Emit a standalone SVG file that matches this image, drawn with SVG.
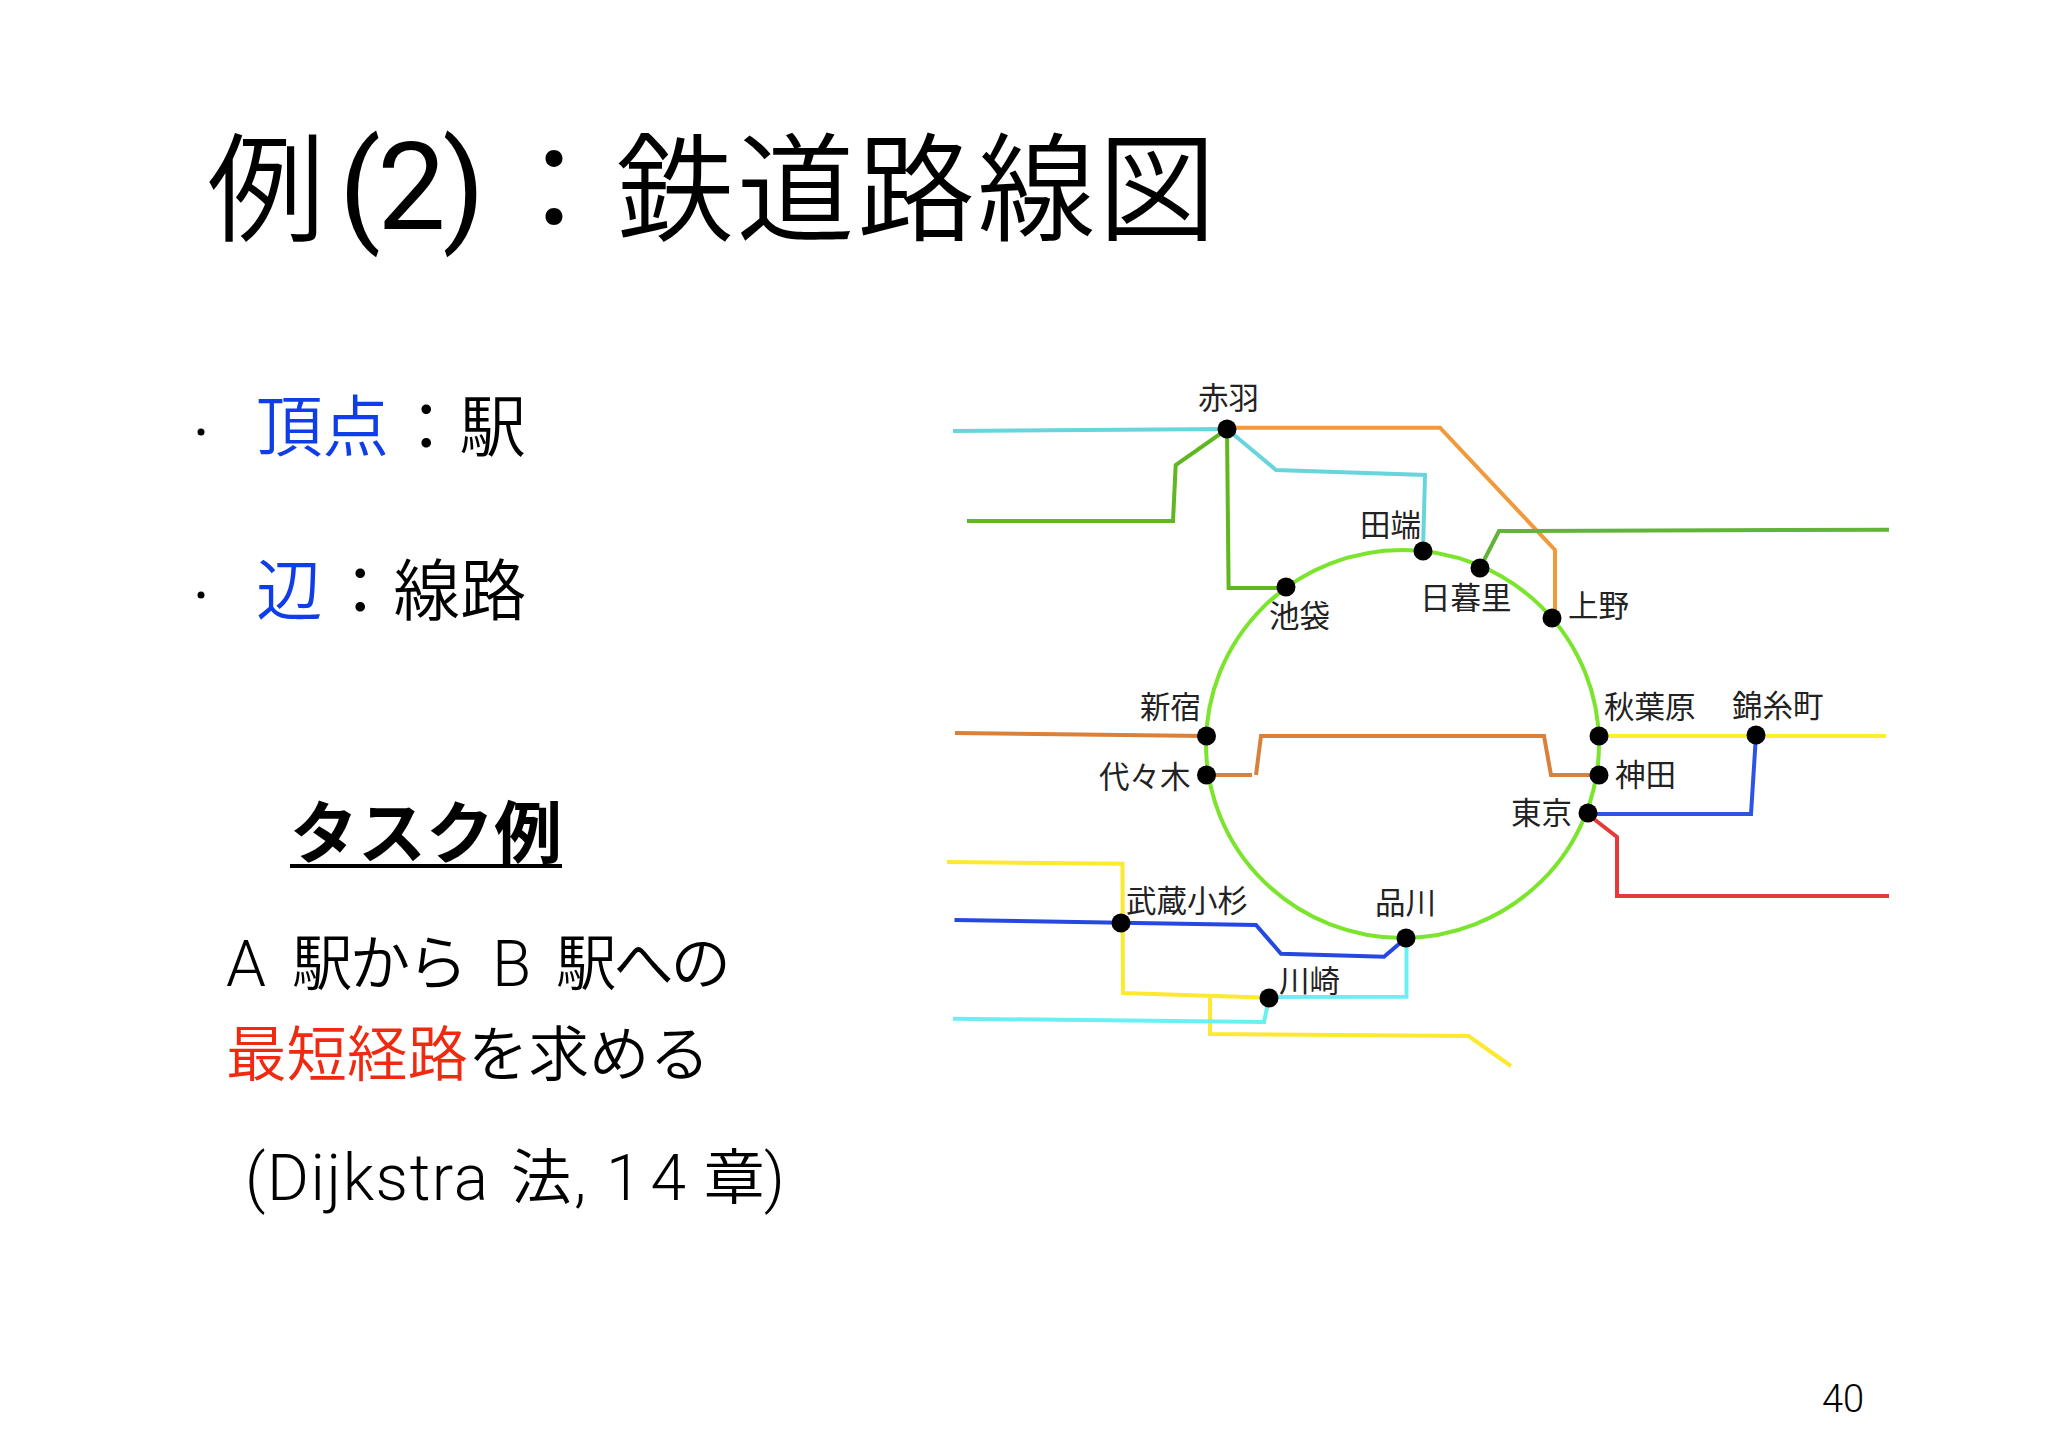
<svg xmlns="http://www.w3.org/2000/svg" width="2048" height="1447" viewBox="0 0 2048 1447">
<style>
text{font-family:"Noto Sans CJK JP",sans-serif;fill:#000}
.r{font-family:Roboto,"Liberation Sans",sans-serif;font-weight:300}
.t{font-size:118px;font-weight:350}
.b{font-size:66.500px;font-weight:350}
.c{font-size:60.500px;font-weight:350}
.lat{font-size:64px}
.s{font-size:30.500px;fill:#222}
.blue{fill:#0f3ee8}.red{fill:#f02a10}
.l{fill:none;stroke-width:4;stroke-linejoin:miter}
.st{fill:#000}
</style>
<rect width="2048" height="1447" fill="#fff"/>
<g id="title"><text class="t" x="207" y="232">例</text><text x="339" y="229" font-size="122" textLength="146" style="font-family:Roboto,sans-serif;font-weight:400">(2)</text><text class="t" x="495" y="232">：</text><text class="t" x="616" y="232" textLength="600">鉄道路線図</text></g>
<g id="bullets">
<circle cx="201" cy="432" r="3.500" class="st"/><text class="b blue" x="256" y="451">頂点</text><text class="b" x="393" y="451">：駅</text>
<circle cx="201" cy="595" r="3.500" class="st"/><text class="b blue" x="256" y="615">辺</text><text class="b" x="327" y="615">：線路</text>
</g>
<g id="task">
<text x="290" y="858" font-size="68" font-weight="700">タスク例</text><rect x="290" y="864" width="272" height="4" class="st"/>
<text class="r lat" x="226" y="986">A</text><text class="c" x="292" y="985" textLength="176">駅から</text><text class="r lat" x="492" y="986">B</text><text class="c" x="556" y="985" textLength="175">駅への</text>
<text class="c" x="226" y="1076"><tspan class="red">最短経路</tspan>を求める</text>
<text class="r lat" x="245" y="1200" textLength="243">(Dijkstra</text><text class="c" x="511" y="1199">法</text><text class="r lat" x="574" y="1200">,</text><text class="r lat" x="606" y="1200" textLength="80">14</text><text class="c" x="704" y="1199">章</text><text class="r lat" x="764" y="1200">)</text>
</g>
<g transform="translate(0 1)">
<g id="connectors">
<ellipse cx="1402.500" cy="743" rx="196.500" ry="194" class="l" stroke="#7be52e" stroke-width="4.500"/>
<path class="l" stroke="#68d5dc" d="M953 430L1227 428M1227 428L1276 469L1425 474L1423 550"/>
<path class="l" stroke="#f09a3c" d="M1227 426.700H1440L1555 549V610"/>
<path class="l" stroke="#5fb81f" d="M967 520H1173L1175.700 464L1227 428L1228.600 587H1286"/>
<path class="l" stroke="#62b33a" d="M1480 567L1499 530L1889 528.700"/>
<path class="l" stroke="#fdf02a" d="M1599 735H1886"/>
<path class="l" stroke="#d9803a" d="M955 732L1206 735M1206 774H1252M1256 774L1261 735H1544L1551 774H1599"/>
<path class="l" stroke="#2c55e8" d="M1588 813H1751L1756 734"/>
<path class="l" stroke="#e53a3a" d="M1590 815L1617 836V895H1889"/>
<path class="l" stroke="#fde92f" d="M947 861L1122.500 862.700L1123 992L1269 996.700M1210 996.700V1033L1468.500 1035L1511 1065"/>
<path class="l" stroke="#2647e0" d="M954.500 919L1121 921.700L1256 924L1281 952.700L1384 955.700L1406 937"/>
<path class="l" stroke="#6af0f2" d="M953 1017.700L1264 1021L1269 997M1269 996L1406.500 995.700V937"/>
</g>
<g id="akabane"><circle cx="1227" cy="428" r="9.500" class="st"/><text class="s" x="1198" y="408">赤羽</text></g>
<g id="tabata"><circle cx="1423" cy="550" r="9.500" class="st"/><text class="s" x="1360" y="535">田端</text></g>
<g id="nippori"><circle cx="1480" cy="567" r="9.500" class="st"/><text class="s" x="1420" y="608">日暮里</text></g>
<g id="ueno"><circle cx="1552" cy="617" r="9.500" class="st"/><text class="s" x="1568" y="616">上野</text></g>
<g id="ikebukuro"><circle cx="1286" cy="586" r="9.500" class="st"/><text class="s" x="1269" y="626">池袋</text></g>
<g id="shinjuku"><circle cx="1206.500" cy="735" r="9.500" class="st"/><text class="s" x="1140" y="717">新宿</text></g>
<g id="yoyogi"><circle cx="1206.500" cy="774" r="9.500" class="st"/><text class="s" x="1099" y="787">代々木</text></g>
<g id="akihabara"><circle cx="1599" cy="735" r="9.500" class="st"/><text class="s" x="1604" y="717">秋葉原</text></g>
<g id="kinshicho"><circle cx="1756" cy="734" r="9.500" class="st"/><text class="s" x="1732" y="716">錦糸町</text></g>
<g id="kanda"><circle cx="1599" cy="774" r="9.500" class="st"/><text class="s" x="1615" y="785">神田</text></g>
<g id="tokyo"><circle cx="1588" cy="812" r="9.500" class="st"/><text class="s" x="1511" y="823">東京</text></g>
<g id="shinagawa"><circle cx="1406" cy="937" r="9.500" class="st"/><text class="s" x="1375" y="913">品川</text></g>
<g id="kawasaki"><circle cx="1269" cy="997" r="9.500" class="st"/><text class="s" x="1279" y="991">川崎</text></g>
<g id="musashikosugi"><circle cx="1121" cy="922" r="9.500" class="st"/><text class="s" x="1126" y="911">武蔵小杉</text></g>
</g>
<text class="r" x="1822" y="1412" font-size="38">40</text>
</svg>
